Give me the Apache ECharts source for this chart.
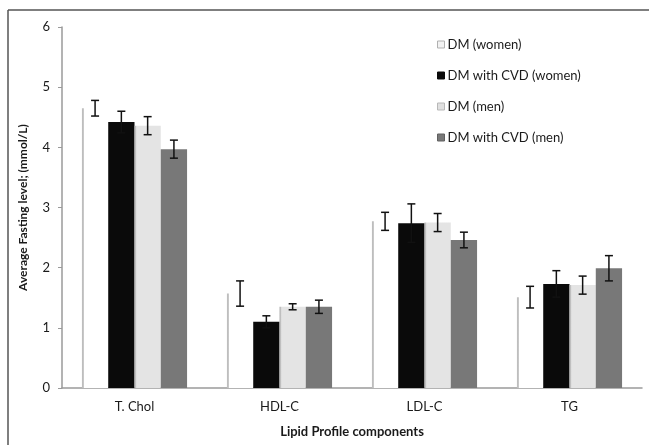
<!DOCTYPE html>
<html>
<head>
<meta charset="utf-8">
<script src="https://cdn.jsdelivr.net/npm/echarts@6/dist/echarts.min.js"></script>
<style>
  html, body { margin: 0; padding: 0; background: #fff; }
  #chart { width: 649px; height: 445px; }
</style>
</head>
<body>
<div id="chart"></div>
<script>
// Lipid profile means (mmol/L) with their error half-widths
const categories = ['T. Chol', 'HDL-C', 'LDL-C', 'TG'];
const seriesNames = ['DM (women)', 'DM with CVD (women)', 'DM (men)', 'DM with CVD (men)'];

const dmWomen      = [4.65, 1.57, 2.77, 1.51];
const cvdWomen     = [4.42, 1.10, 2.74, 1.73];
const dmMen        = [4.36, 1.35, 2.75, 1.71];
const cvdMen       = [3.97, 1.35, 2.46, 1.99];

const dmWomenErr   = [0.13, 0.21, 0.15, 0.18];
const cvdWomenErr  = [0.18, 0.10, 0.32, 0.22];
const dmMenErr     = [0.15, 0.05, 0.15, 0.15];
const cvdMenErr    = [0.15, 0.11, 0.13, 0.21];

const yTicks = [0, 1, 2, 3, 4, 5, 6];

const values = [dmWomen, cvdWomen, dmMen, cvdMen];
const errors = [dmWomenErr, cvdWomenErr, dmMenErr, cvdMenErr];

const BAR_CATEGORY_GAP = 0.275;

// Fills: white and light bars carry a thin grey left edge
const fills = [
  { type: 'linear', x: 0, y: 0, x2: 1, y2: 0, colorStops: [
      { offset: 0, color: '#b8b8b8' }, { offset: 0.06, color: '#c8c8c8' },
      { offset: 0.08, color: '#ffffff' }, { offset: 1, color: '#ffffff' } ] },
  '#0a0a0a',
  { type: 'linear', x: 0, y: 0, x2: 1, y2: 0, colorStops: [
      { offset: 0, color: '#b0b0b0' }, { offset: 0.06, color: '#c8c8c8' },
      { offset: 0.08, color: '#e4e4e4' }, { offset: 1, color: '#e4e4e4' } ] },
  '#787878'
];
const legendIcons = ['#f2f2f2', '#0a0a0a', '#e0e0e0', '#787878'];
const legendBorders = ['#b0b0b0', '#0a0a0a', '#b8b8b8', '#606060'];

const FONT = 'Lato';

const barSeries = seriesNames.map((name, i) => ({
  name,
  type: 'bar',
  data: values[i],
  barGap: '0%',
  barCategoryGap: (BAR_CATEGORY_GAP * 100) + '%',
  itemStyle: { color: fills[i] },
  z: 2
}));

const errorSeries = seriesNames.map((name, i) => ({
  name: name + ' error',
  type: 'custom',
  z: 5,
  silent: true,
  data: categories.map((c, k) => [k, values[i][k] - errors[i][k], values[i][k] + errors[i][k]]),
  encode: { x: 0, y: [1, 2] },
  renderItem: function (params, api) {
    const k = api.value(0);
    const base = api.coord([k, 0]);
    const band = api.size([1, 0])[0];
    const bw = band * (1 - BAR_CATEGORY_GAP) / 4;
    const cx = base[0] + (i - 1.5) * bw;
    const yLo = api.coord([k, api.value(1)])[1];
    const yHi = api.coord([k, api.value(2)])[1];
    const cap = 4;
    const style = { stroke: '#111', lineWidth: 1.5, fill: null };
    return {
      type: 'group',
      children: [
        { type: 'line', shape: { x1: cx, y1: yLo, x2: cx, y2: yHi }, style },
        { type: 'line', shape: { x1: cx - cap, y1: yHi, x2: cx + cap, y2: yHi }, style },
        { type: 'line', shape: { x1: cx - cap, y1: yLo, x2: cx + cap, y2: yLo }, style }
      ]
    };
  }
}));

const chart = echarts.init(document.getElementById('chart'), null, { renderer: 'canvas' });

chart.setOption({
  backgroundColor: '#ffffff',
  animation: false,
  textStyle: { fontFamily: FONT },
  grid: { left: 62, right: 7, top: 27, bottom: 57, containLabel: false },
  legend: {
    orient: 'vertical',
    left: 432,
    top: 33,
    itemWidth: 7,
    itemHeight: 7,
    itemGap: 18,
    icon: 'rect',
    textStyle: { fontFamily: FONT, fontSize: 13, color: '#1a1a1a', padding: [0, 0, 0, -2] },
    data: seriesNames.map((n, i) => ({
      name: n,
      itemStyle: { color: legendIcons[i], borderColor: legendBorders[i], borderWidth: 1 }
    }))
  },
  xAxis: {
    type: 'category',
    data: categories,
    name: 'Lipid Profile components',
    nameLocation: 'middle',
    nameGap: 37,
    nameTextStyle: { fontFamily: FONT, fontSize: 13, fontWeight: 'bold', color: '#1a1a1a' },
    axisLine: { lineStyle: { color: '#9a9a9a', width: 1.5 } },
    axisTick: { show: false },
    axisLabel: { fontFamily: FONT, fontSize: 13, color: '#1a1a1a', margin: 12 }
  },
  yAxis: {
    type: 'value',
    min: yTicks[0],
    max: yTicks[yTicks.length - 1],
    interval: 1,
    name: 'Average Fasting level; (mmol/L)',
    nameLocation: 'middle',
    nameGap: 33,
    nameTextStyle: { fontFamily: FONT, fontSize: 12, fontWeight: 'bold', color: '#1a1a1a' },
    axisLine: { show: true, lineStyle: { color: '#9a9a9a', width: 1.5 } },
    axisTick: { show: true, length: 4, lineStyle: { color: '#9a9a9a' } },
    splitLine: { show: false },
    axisLabel: { fontFamily: FONT, fontSize: 13, color: '#1a1a1a', margin: 12 }
  },
  graphic: [
    { type: 'line', shape: { x1: 8, y1: 10, x2: 649, y2: 10 }, style: { stroke: '#555', lineWidth: 1.5 } },
    { type: 'line', shape: { x1: 8, y1: 10, x2: 8, y2: 445 }, style: { stroke: '#555', lineWidth: 1.5 } }
  ],
  series: barSeries.concat(errorSeries)
});
</script>
</body>
</html>
